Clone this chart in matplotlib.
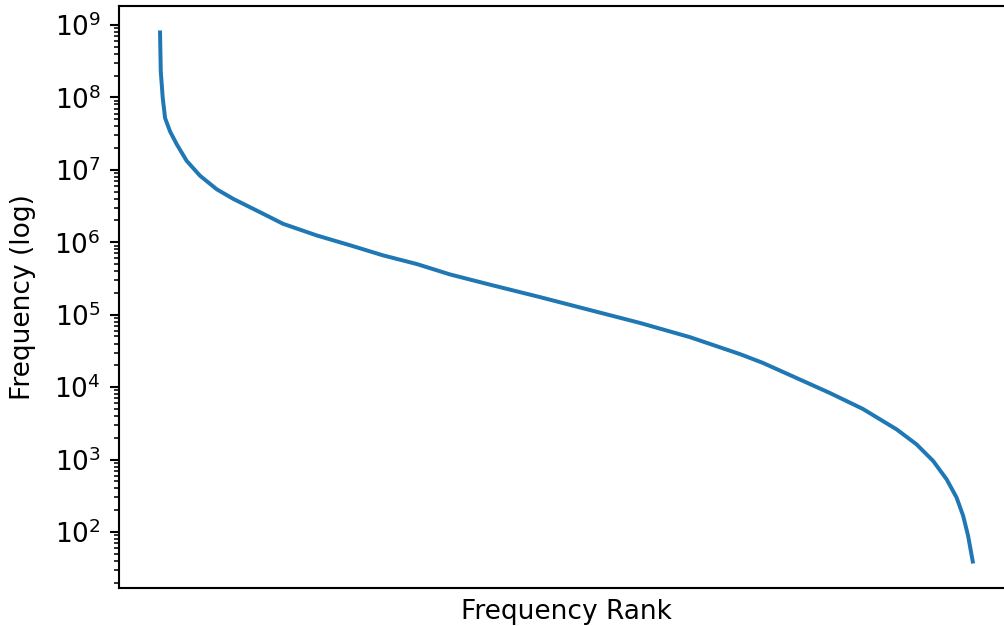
import numpy as np
import matplotlib.pyplot as plt

# rank (scaled 0-1000) vs word frequency
rank = [0, 0.9, 3.3, 6.2, 12.3, 20.5, 32.8, 49.2, 69.7, 90.2, 110.7, 131.2,
        151.3, 193.1, 233.7, 274.3, 316.1, 356.7, 405.9, 467.4, 528.9, 590.4,
        651.9, 713.4, 741.7, 783.5, 824.1, 864.7, 906.5, 930.8, 951.2, 967.7,
        980.0, 988.1, 994.2, 1000]
freq = [7.9e8, 2.3e8, 9.9e7, 5.2e7, 3.4e7, 2.26e7, 1.33e7, 8.3e6, 5.4e6, 3.97e6,
        3.05e6, 2.34e6, 1.8e6, 1.24e6, 9.1e5, 6.6e5, 5.0e5, 3.6e5, 2.6e5, 1.75e5,
        1.16e5, 7.7e4, 4.9e4, 2.86e4, 2.16e4, 1.33e4, 8.3e3, 5.0e3, 2.6e3, 1.62e3,
        957, 536, 300, 168, 89, 39]

fig = plt.figure(figsize=(1004/190, 626/190), dpi=190)
ax = fig.add_axes([119.4/1004, 38/626, 894/1004, 582/626])
ax.plot(rank, freq)
ax.set_yscale('log')
ax.set_xticks([])
ax.set_xlabel("Frequency Rank")
ax.set_ylabel("Frequency (log)", labelpad=7)
fig.savefig("out.png", dpi=190)
